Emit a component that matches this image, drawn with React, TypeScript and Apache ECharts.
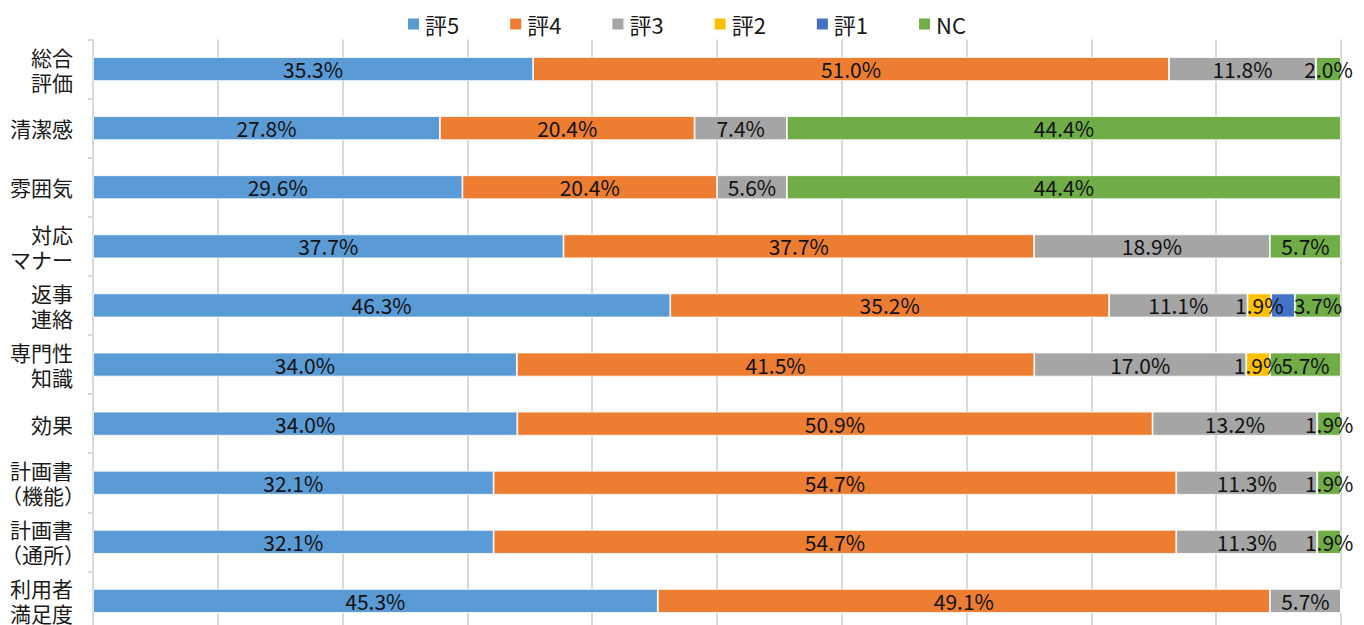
import React, { useEffect, useRef } from "react";
import * as echarts from "echarts";

const categories = [
  "総合\n評価",
  "清潔感",
  "雰囲気",
  "対応\nマナー",
  "返事\n連絡",
  "専門性\n知識",
  "効果",
  "計画書\n（機能）",
  "計画書\n（通所）",
  "利用者\n満足度",
];
const seriesNames = ["評5", "評4", "評3", "評2", "評1", "NC"];
const colors = ["#5B9BD5", "#ED7D31", "#A5A5A5", "#FFC000", "#4472C4", "#70AD47"];

const hyo5 = [35.3, 27.8, 29.6, 37.7, 46.3, 34.0, 34.0, 32.1, 32.1, 45.3];
const hyo4 = [51.0, 20.4, 20.4, 37.7, 35.2, 41.5, 50.9, 54.7, 54.7, 49.1];
const hyo3 = [11.8, 7.4, 5.6, 18.9, 11.1, 17.0, 13.2, 11.3, 11.3, 5.7];
const hyo2 = [0, 0, 0, 0, 1.9, 1.9, 0, 0, 0, 0];
const hyo1 = [0, 0, 0, 0, 1.9, 0, 0, 0, 0, 0];
const nc = [2.0, 44.4, 44.4, 5.7, 3.7, 5.7, 1.9, 1.9, 1.9, 0];
const showLabels = [true, true, true, true, false, true];

const xTicks = [0, 10, 20, 30, 40, 50, 60, 70, 80, 90, 100];

const FONT = "'Noto Sans CJK JP', 'Noto Sans', sans-serif";

export default function App() {
  const ref = useRef<HTMLDivElement>(null);
  useEffect(() => {
    if (!ref.current) return;
    const chart = echarts.init(ref.current, undefined, { renderer: "svg" });
    const all = [hyo5, hyo4, hyo3, hyo2, hyo1, nc];
    const totals = categories.map((_, i) => all.reduce((s, arr) => s + arr[i], 0));
    const series = all.map((arr, k) => ({
      name: seriesNames[k],
      type: "bar",
      stack: "total",
      barWidth: 24,
      itemStyle: { color: colors[k], borderColor: "#ffffff", borderWidth: 0.8 },
      label: {
        show: showLabels[k],
        position: "inside",
        color: "#111111",
        fontSize: 21,
        fontFamily: FONT,
        formatter: (p: any) => (arr[p.dataIndex] > 0 ? arr[p.dataIndex].toFixed(1) + "%" : ""),
      },
      labelLayout: { hideOverlap: false },
      data: arr.map((v, i) => (v / totals[i]) * 100),
    }));
    const labelStyle = {
      fontSize: 21,
      lineHeight: 25,
      color: "#1a1a1a",
      fontFamily: FONT,
      align: "right",
    };
    chart.setOption({
      animation: false,
      color: colors,
      textStyle: { fontFamily: FONT },
      legend: {
        top: 8,
        left: 401,
        itemWidth: 13,
        itemHeight: 13,
        itemGap: 49,
        icon: "rect",
        textStyle: { fontSize: 22, color: "#1a1a1a", fontFamily: FONT },
        data: seriesNames,
      },
      grid: {
        left: 93,
        right: 23,
        top: 39.5,
        height: 591,
        containLabel: false,
        outerBoundsMode: "none",
      },
      xAxis: {
        type: "value",
        min: xTicks[0],
        max: xTicks[xTicks.length - 1],
        interval: 10,
        axisLabel: { show: false },
        axisLine: { show: false },
        axisTick: { show: false },
        splitLine: { show: true, lineStyle: { color: "#d9d9d9", width: 2 } },
      },
      yAxis: {
        type: "category",
        inverse: true,
        data: categories,
        axisLine: { show: true, lineStyle: { color: "#d9d9d9", width: 2 } },
        axisTick: { show: true, length: 5, lineStyle: { color: "#d9d9d9", width: 2 } },
        axisLabel: {
          ...labelStyle,
          margin: 8,
          formatter: (v: string) =>
            v
              .split("\n")
              .map((line) => (line.endsWith("）") ? `{t|${line}}` : `{t|${line}}{sp| }`))
              .join("\n"),
          rich: {
            t: { ...labelStyle },
            sp: { ...labelStyle, width: 12 },
          },
        },
      },
      series,
    });
    return () => chart.dispose();
  }, []);
  return (
    <div
      ref={ref}
      style={{ position: "fixed", left: 0, top: 0, width: 1364, height: 625, background: "#fff" }}
    />
  );
}
